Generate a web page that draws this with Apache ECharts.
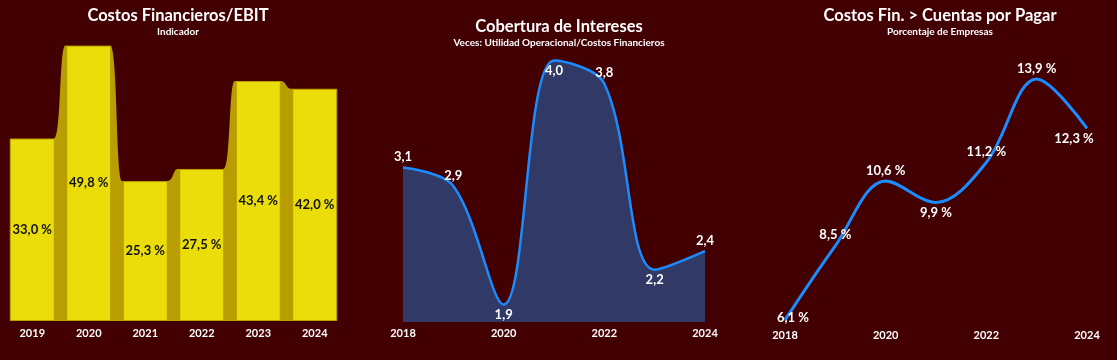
<!DOCTYPE html>
<html><head><meta charset="utf-8">
<script src="https://cdn.jsdelivr.net/npm/echarts@6/dist/echarts.min.js"></script>
<style>html,body{margin:0;padding:0;background:#430002;}#c{width:1117px;height:360px;}</style>
</head><body><div id="c"></div>
<script>
// ---- data ----
var years1 = ['2019','2020','2021','2022','2023','2024'];
var costosEbit = [33.0, 49.8, 25.3, 27.5, 43.4, 42.0];
var years2 = ['2018','2019','2020','2021','2022','2023','2024'];
var cobertura = [3.08, 2.92, 1.9, 4.0, 3.8, 2.2, 2.36];
var years3 = ['2018','2019','2020','2021','2022','2023','2024'];
var cuentasPagar = [6.1, 8.5, 10.6, 9.9, 11.2, 13.9, 12.3];

// ---- options ----
var FONT = 'Lato';
function fmt(v){ return v.toFixed(1).replace('.', ','); }
var BAR_W = 45;
var connectorData = [];
for (var i = 0; i < costosEbit.length - 1; i++) connectorData.push([i, costosEbit[i], costosEbit[i+1]]);

var cobPos = ['top','top','bottom','bottom','top','bottom','top'];
var cuePos = [{position:'inside',offset:[8,-2]},{position:'top'},{position:'top'},{position:'bottom'},{position:'top'},{position:'top'},{position:'bottom',offset:[-13,0]}];

var axisLabelStyle = {color:'#ffffff', fontFamily:FONT, fontWeight:'bold', fontSize:11};
var valLabel = {color:'#fff', fontFamily:FONT, fontWeight:'bold', fontSize:13};
var titleStyle = {color:'#fff', fontFamily:FONT, fontWeight:'bold', fontSize:16.5};
var subStyle = {color:'#fff', fontFamily:FONT, fontWeight:'bold', fontSize:10};
var option = {
  backgroundColor:'#430002',
  animation:false,
  title:[
    {text:'Costos Financieros/EBIT', subtext:'Indicador', left:173, top:2, textAlign:'center', itemGap:3,
     textStyle:titleStyle, subtextStyle:subStyle},
    {text:'Cobertura de Intereses', subtext:'Veces: Utilidad Operacional/Costos Financieros', left:554, top:13, textAlign:'center', itemGap:3,
     textStyle:titleStyle, subtextStyle:subStyle},
    {text:'Costos Fin. > Cuentas por Pagar', subtext:'Porcentaje de Empresas', left:935, top:2, textAlign:'center', itemGap:3,
     textStyle:titleStyle, subtextStyle:subStyle}
  ],
  grid:[
    {left:4, width:339, top:44.5, bottom:39},
    {left:403, width:302, top:31.5, bottom:38},
    {left:785, width:302, top:45, bottom:37}
  ],
  xAxis:[
    {gridIndex:0, type:'category', data:years1, axisTick:{show:false},
     axisLine:{show:false}, axisLabel:Object.assign({margin:7}, axisLabelStyle)},
    {gridIndex:1, type:'category', data:years2, boundaryGap:false, axisTick:{show:false},
     axisLine:{show:false}, axisLabel:Object.assign({margin:6, interval:1}, axisLabelStyle)},
    {gridIndex:2, type:'category', data:years3, boundaryGap:false, axisTick:{show:false},
     axisLine:{show:false}, axisLabel:Object.assign({margin:7, interval:1}, axisLabelStyle)}
  ],
  yAxis:[
    {gridIndex:0, type:'value', min:0, max:50, show:false, splitLine:{show:false}},
    {gridIndex:1, type:'value', min:1.75, max:4.25, show:false, splitLine:{show:false}},
    {gridIndex:2, type:'value', min:6, max:15, show:false, splitLine:{show:false}}
  ],
  series:[
    {type:'custom', xAxisIndex:0, yAxisIndex:0, z:1, data:connectorData,
     renderItem:function(params, api){
       var i = api.value(0);
       var p0 = api.coord([i, api.value(1)]);
       var p1 = api.coord([i+1, api.value(2)]);
       var base = api.coord([i, 0])[1];
       var xr = p0[0] + BAR_W/2 - 1, xl = p1[0] - BAR_W/2 + 1;
       var g = xl - xr;
       var pts = [[xr, base], [xr, p0[1]]];
       var c1 = [xr + g*0.55, p0[1]], c2 = [xr + g*0.4, p1[1]], e = [xl - 2, p1[1]];
       for (var k = 1; k <= 24; k++){
         var t = k/24, u = 1-t;
         pts.push([u*u*u*xr + 3*u*u*t*c1[0] + 3*u*t*t*c2[0] + t*t*t*e[0],
                   u*u*u*p0[1] + 3*u*u*t*c1[1] + 3*u*t*t*c2[1] + t*t*t*e[1]]);
       }
       pts.push([xl, p1[1]]);
       pts.push([xl, base]);
       return {type:'polygon', shape:{points:pts}, style:{fill:'#b89d03'}};
     }},
    {type:'bar', xAxisIndex:0, yAxisIndex:0, z:2, data:costosEbit, barWidth:BAR_W,
     itemStyle:{color:'#eadd0a', borderColor:'#b89d03', borderWidth:1},
     label:{show:true, position:'inside', color:'#111', fontFamily:FONT, fontWeight:'bold', fontSize:13,
       formatter:function(p){return fmt(p.value)+' %';}}},
    {type:'line', xAxisIndex:1, yAxisIndex:1, smooth:0.35, symbol:'circle', symbolSize:0, showSymbol:true,
     data:cobertura.map(function(v,i){return {value:v, label:{position:cobPos[i]}};}),
     lineStyle:{color:'#1b8cff', width:2.5},
     itemStyle:{color:'#1b8cff'},
     areaStyle:{color:'#313a66', opacity:1, origin:'start'},
     label:Object.assign({show:true, distance:4, formatter:function(p){return fmt(p.value);}}, valLabel)},
    {type:'line', xAxisIndex:2, yAxisIndex:2, smooth:0.35, symbol:'circle', symbolSize:0, showSymbol:true,
     data:cuentasPagar.map(function(v,i){return {value:v, label:cuePos[i]};}),
     lineStyle:{color:'#1b8cff', width:3},
     itemStyle:{color:'#1b8cff'},
     label:Object.assign({show:true, distance:4, formatter:function(p){return fmt(p.value)+' %';}}, valLabel)}
  ]
};
var chart = echarts.init(document.getElementById('c'), null, {renderer:'canvas'});
chart.setOption(option);
</script></body></html>
